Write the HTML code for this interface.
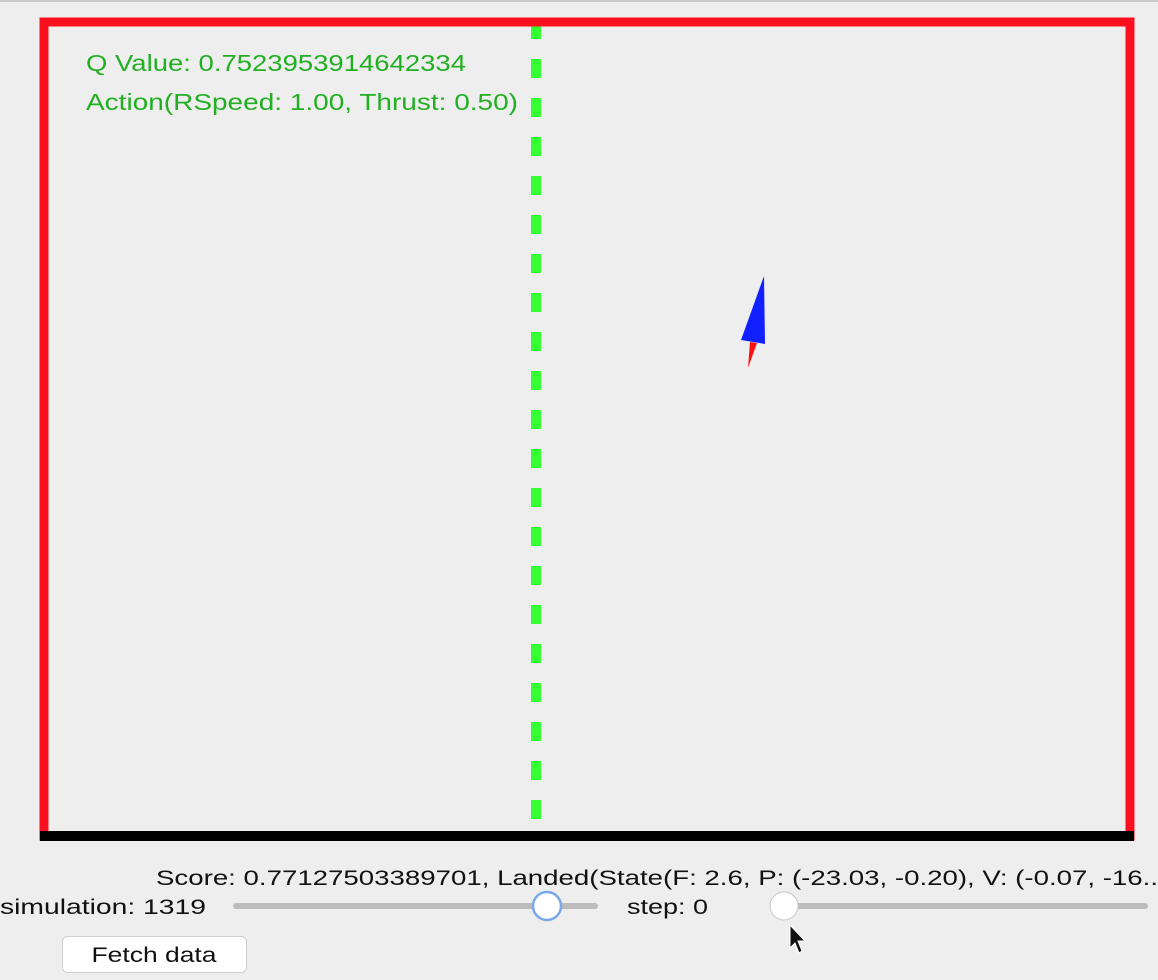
<!DOCTYPE html>
<html><head><meta charset="utf-8"><style>
html,body{margin:0;padding:0;background:#eeeeee;width:1158px;height:980px;overflow:hidden}
svg{display:block}
text{font-family:"Liberation Sans",sans-serif}
</style></head><body>
<svg width="1158" height="980" viewBox="0 0 1158 980">
<rect x="0" y="0" width="1158" height="980" fill="#eeeeee"/>
<rect x="0" y="0" width="1158" height="2" fill="#c8c8c8"/>
<g id="arena">
  <line x1="536" y1="20" x2="536" y2="820" stroke="#33ff33" stroke-width="10" stroke-dasharray="19 20"/>
  <rect x="44" y="22" width="1086" height="814" fill="none" stroke="#fc1020" stroke-width="9"/>
  <line x1="40" y1="836" x2="1134" y2="836" stroke="#000" stroke-width="10"/>
  <text x="86" y="71" font-size="23" fill="#22b022" textLength="380" lengthAdjust="spacingAndGlyphs">Q Value: 0.7523953914642334</text>
  <text x="86" y="110" font-size="23" fill="#22b022" textLength="432" lengthAdjust="spacingAndGlyphs">Action(RSpeed:  1.00, Thrust:  0.50)</text>
  <polygon points="764,276 741,340 765,344" fill="#1020ff"/>
  <polygon points="750,342 757,343 748,368" fill="#ff1010"/>
</g>
<text x="156" y="885" font-size="21" fill="#111" textLength="1002" lengthAdjust="spacingAndGlyphs">Score: 0.77127503389701, Landed(State(F: 2.6, P: (-23.03, -0.20), V: (-0.07, -16..</text>
<text x="0" y="914" font-size="21" fill="#111" textLength="206" lengthAdjust="spacingAndGlyphs">simulation: 1319</text>
<g>
  <rect x="233" y="903" width="365" height="6" rx="3" fill="#bcbcbc"/>
  <circle cx="547" cy="906" r="14" fill="#fff" stroke="#7aa8e8" stroke-width="2.5"/>
</g>
<text x="627" y="914" font-size="21" fill="#111" textLength="81" lengthAdjust="spacingAndGlyphs">step: 0</text>
<g>
  <rect x="770" y="903" width="378" height="6" rx="3" fill="#bcbcbc"/>
  <circle cx="784" cy="906" r="14" fill="#fff" stroke="#c8c8c8" stroke-width="1"/>
</g>
<polygon points="790,925 790,948 795,943 799,953 802,951 798,941 805,941" fill="#111" stroke="#fff" stroke-width="1"/>
<g>
  <rect x="62.5" y="936.5" width="184" height="36" rx="5" fill="#fff" stroke="#cfcfcf"/>
  <text x="154" y="962" font-size="21" fill="#111" text-anchor="middle" textLength="125" lengthAdjust="spacingAndGlyphs">Fetch data</text>
</g>
</svg>
</body></html>
